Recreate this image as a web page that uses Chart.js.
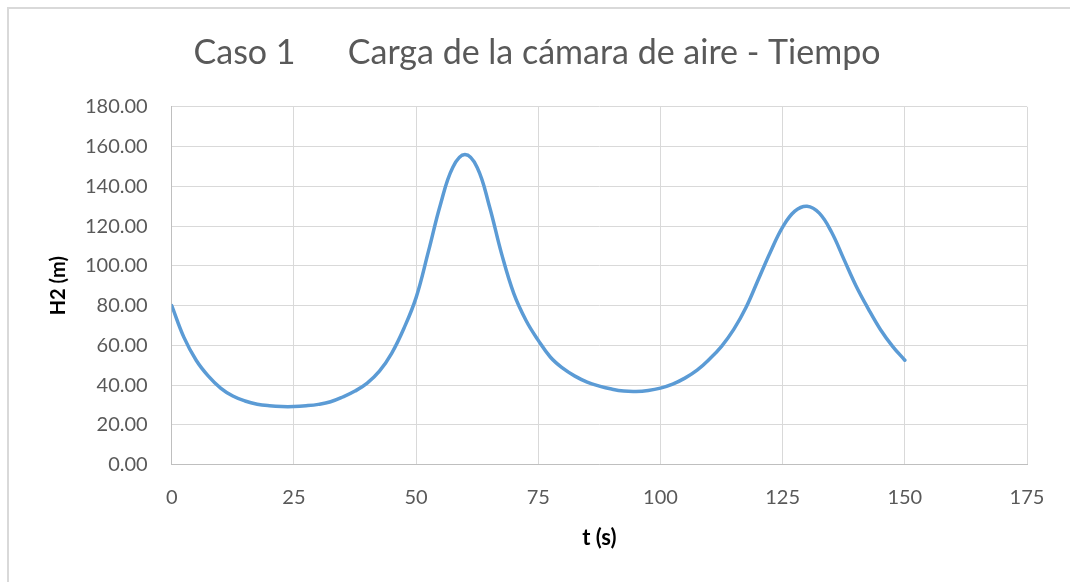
<!DOCTYPE html>
<html>
<head>
<meta charset="utf-8">
<script src="https://cdn.jsdelivr.net/npm/chart.js@4"></script>
<style>
  html, body { margin: 0; padding: 0; background: #ffffff; }
  #wrap { position: relative; width: 1070px; height: 582px; overflow: hidden; }
  #frame { position: absolute; left: 7px; top: 7px; width: 1100px; height: 620px;
           border-top: 2px solid #d9d9d9; border-left: 2px solid #d9d9d9; }
  #c { position: absolute; left: 0; top: 0; }
</style>
</head>
<body>
<div id="wrap">
  <div id="frame"></div>
  <canvas id="c" width="1070" height="582"></canvas>
</div>
<script>
// Chart text
const chartTitle = "Caso 1      Carga de la cámara de aire - Tiempo";
const xTitle = "t (s)";
const yTitle = "H2 (m)";

// Series: time (s) and H2 (m)
const tValues = [0, 2.5, 5, 7.5, 10, 12.5, 15, 17.5, 20, 22.5, 25, 27.5, 30, 32.5, 35, 37.5, 40, 42.5, 45, 47.5,
  50, 52.5, 55, 57.5, 60, 62.5, 65, 67.5, 70, 72.5, 75, 77.5, 80, 82.5, 85, 87.5, 90, 92.5, 95, 97.5,
  100, 102.5, 105, 107.5, 110, 112.5, 115, 117.5, 120, 122.5, 125, 127.5, 130, 132.5, 135, 137.5, 140, 142.5, 145, 147.5, 150];
const h2Values = [80, 64, 52.5, 44.5, 38.5, 34.5, 32, 30.4, 29.6, 29.2, 29.2, 29.6, 30.3, 31.6, 34, 37, 41, 47, 56, 68.5,
  84, 107, 131, 149.5, 156, 149.5, 130, 106, 86, 72.5, 62.5, 54, 48.5, 44.5, 41.5, 39.5, 38, 37, 36.8, 37.3,
  38.5, 40.5, 43.5, 47.5, 53, 59.5, 68, 79, 93, 107, 119.5, 127.5, 130, 126.5, 117, 103.5, 90, 78.5, 68, 59.5, 52.5];

// Axis ticks
const xTicks = [0, 25, 50, 75, 100, 125, 150, 175];
const yTicks = [0, 20, 40, 60, 80, 100, 120, 140, 160, 180];

const points = tValues.map((t, i) => ({ x: t, y: h2Values[i] }));

new Chart(document.getElementById('c'), {
  type: 'scatter',
  data: {
    datasets: [{
      data: points,
      showLine: true,
      borderColor: '#5B9BD5',
      backgroundColor: '#5B9BD5',
      borderWidth: 3.5,
      pointRadius: 0,
      pointHoverRadius: 0,
      tension: 0.4,
      borderCapStyle: 'round',
      borderJoinStyle: 'round'
    }]
  },
  options: {
    responsive: false,
    animation: false,
    devicePixelRatio: 1,
    layout: { padding: { left: 47, right: 43, top: 0, bottom: 31 } },
    plugins: {
      legend: { display: false },
      tooltip: { enabled: false },
      title: {
        display: true,
        text: chartTitle,
        color: '#595959',
        font: { family: 'Lato', size: 34, weight: 'normal' },
        padding: { top: 33, bottom: 33 }
      }
    },
    scales: {
      x: {
        type: 'linear',
        min: xTicks[0],
        max: xTicks[xTicks.length - 1],
        afterBuildTicks: (s) => { s.ticks = xTicks.map(v => ({ value: v })); },
        ticks: {
          color: '#595959',
          font: { family: 'Lato', size: 20 },
          padding: 21,
          maxRotation: 0
        },
        grid: { color: '#d9d9d9', lineWidth: 1, drawTicks: false },
        border: { color: '#bfbfbf', width: 1 },
        title: {
          display: true,
          text: xTitle,
          color: '#000000',
          font: { family: 'Lato', size: 22, weight: 'bold' },
          padding: { top: -6, bottom: 0 }
        }
      },
      y: {
        type: 'linear',
        min: yTicks[0],
        max: yTicks[yTicks.length - 1],
        afterBuildTicks: (s) => { s.ticks = yTicks.map(v => ({ value: v })); },
        ticks: {
          color: '#595959',
          font: { family: 'Lato', size: 20 },
          padding: 24,
          callback: (v) => Number(v).toFixed(2)
        },
        grid: { color: '#d9d9d9', lineWidth: 1, drawTicks: false },
        border: { color: '#bfbfbf', width: 1 },
        title: {
          display: true,
          text: yTitle,
          color: '#000000',
          font: { family: 'Lato', size: 20, weight: 'bold' },
          padding: { top: 0, bottom: -10 }
        }
      }
    }
  }
});
</script>
</body>
</html>
